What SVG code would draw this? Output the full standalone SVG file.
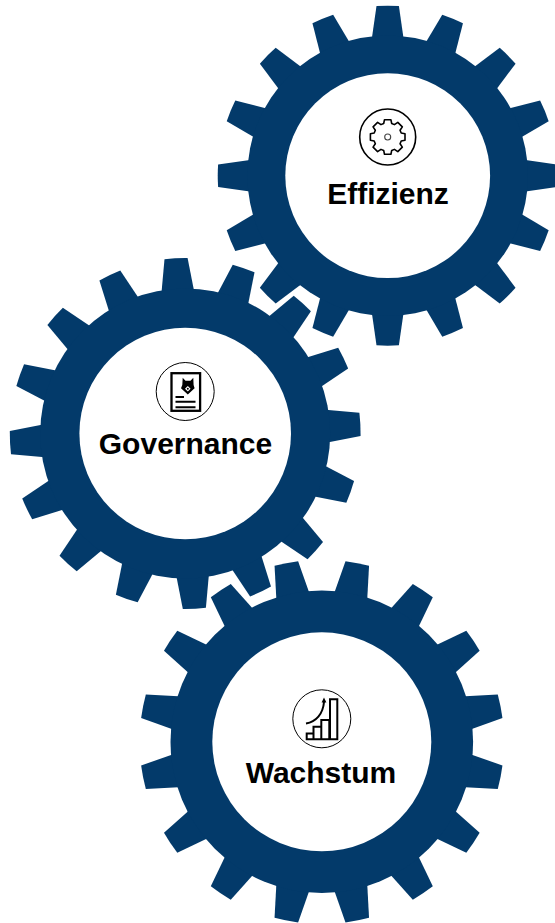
<svg xmlns="http://www.w3.org/2000/svg" width="555" height="923" viewBox="0 0 555 923">
<style>
.label{font-family:"Liberation Sans",Arial,sans-serif;font-weight:700;font-size:30px;fill:#000;text-anchor:middle}
.blue{fill:#033a6a}
.ring{fill:#fff;stroke:#000}
.ink{fill:none;stroke:#000}
</style>
<defs>
<path id="tooth" class="blue" d="M-15.5,-139.6 L-11.2,-169.6 A170,170 0 0 1 11.2,-169.6 L15.5,-139.6 L15.5,-130 L-15.5,-130 Z"/>
<g id="teeth">
<use href="#tooth"/>
<use href="#tooth" transform="rotate(22.5)"/>
<use href="#tooth" transform="rotate(45)"/>
<use href="#tooth" transform="rotate(67.5)"/>
<use href="#tooth" transform="rotate(90)"/>
<use href="#tooth" transform="rotate(112.5)"/>
<use href="#tooth" transform="rotate(135)"/>
<use href="#tooth" transform="rotate(157.5)"/>
<use href="#tooth" transform="rotate(180)"/>
<use href="#tooth" transform="rotate(202.5)"/>
<use href="#tooth" transform="rotate(225)"/>
<use href="#tooth" transform="rotate(247.5)"/>
<use href="#tooth" transform="rotate(270)"/>
<use href="#tooth" transform="rotate(292.5)"/>
<use href="#tooth" transform="rotate(315)"/>
<use href="#tooth" transform="rotate(337.5)"/>
</g>
</defs>
<g id="node-effizienz">
<use href="#teeth" transform="translate(387.7,175.7)"/>
<circle class="blue" cx="387.7" cy="175.7" r="140.3"/>
<circle cx="387.7" cy="175.7" r="102.4" fill="#fff"/>
<circle class="ring" cx="387.7" cy="137" r="28" stroke-width="1.6"/>
<g transform="translate(387.7,137)">
<path class="ink" stroke-width="1.6" stroke-linejoin="round" d="M-4,-13.5 L-3.2,-17.3 L3.2,-17.3 L4,-13.5 L6.72,-12.37 L10.11,-14.64 L14.64,-10.11 L12.37,-6.72 L13.5,-4 L17.3,-3.2 L17.3,3.2 L13.5,4 L12.37,6.72 L14.64,10.11 L10.11,14.64 L6.72,12.37 L4,13.5 L3.2,17.3 L-3.2,17.3 L-4,13.5 L-6.72,12.37 L-10.11,14.64 L-14.64,10.11 L-12.37,6.72 L-13.5,4 L-17.3,3.2 L-17.3,-3.2 L-13.5,-4 L-12.37,-6.72 L-14.64,-10.11 L-10.11,-14.64 L-6.72,-12.37 Z"/>
<circle r="3" fill="none" stroke="#444" stroke-width="1.1"/>
</g>
<text class="label" x="388" y="204">Effizienz</text>
</g>
<g id="node-governance">
<use href="#teeth" transform="translate(185.2,433.5) rotate(-3) scale(1.032)"/>
<circle class="blue" cx="185.2" cy="433.5" r="145"/>
<circle cx="185.2" cy="433.5" r="105.8" fill="#fff"/>
<circle class="ring" cx="185.2" cy="391.5" r="29" stroke-width="1"/>
<rect class="ink" x="171.5" y="373.2" width="28.6" height="37.6" stroke-width="2.3"/>
<path fill="#000" d="M182.7,377.7 L185.5,380.7 L190.5,380.7 L193.3,377.7 L193.6,385 L194.6,388.3 L187.8,394.6 L181,388.3 L182.3,385 Z"/>
<path fill="#fff" d="M187.8,386 L190.6,388.8 L187.8,391.6 L185,388.8 Z"/>
<circle cx="187.8" cy="388.8" r="1" fill="#000"/>
<path class="ink" stroke-width="2" d="M175.5,397 H184 M175.5,401.7 H195.5 M175.5,407.3 H195.5"/>
<text class="label" x="185.5" y="454">Governance</text>
</g>
<g id="node-wachstum">
<use href="#teeth" transform="translate(321.8,741.8) rotate(11.25) scale(1.072)"/>
<circle class="blue" cx="321.8" cy="741.8" r="151.3"/>
<circle cx="321.8" cy="741.8" r="109.5" fill="#fff"/>
<circle class="ring" cx="321.8" cy="718.8" r="29" stroke-width="1"/>
<path class="ink" stroke-width="2" d="M306.7,733.5 H313.5 V739.3 H306.7 Z M313.5,739.3 V726.7 H321.3 V739.3 M321.3,739.3 V720 H329.3 V739.3 H313.5 M330,739.3 V699.3 H337.3 V739.3 H329.3"/>
<path class="ink" stroke-width="2" d="M306,723.5 C316,722 323,714 324,702"/>
<path fill="#000" d="M324,697.5 L326.4,702.5 L321.6,702.5 Z"/>
<text class="label" x="321" y="783.3">Wachstum</text>
</g>
<g id="connectors"></g>
</svg>
